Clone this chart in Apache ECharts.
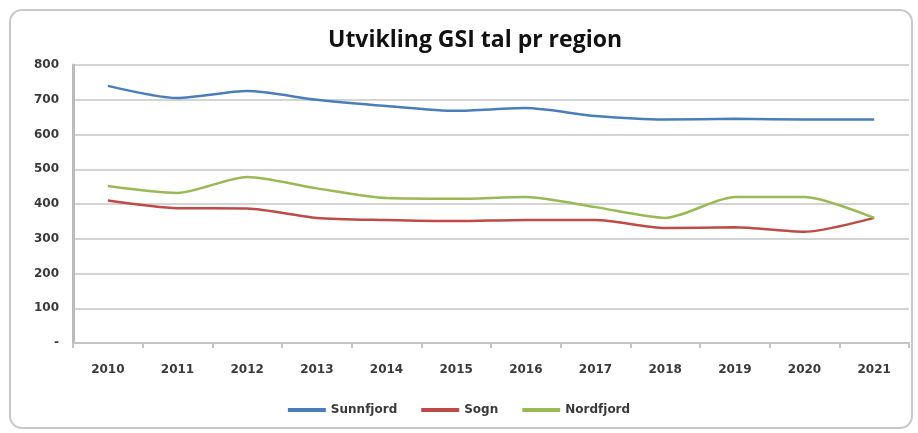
<!DOCTYPE html>
<html><head><meta charset="utf-8">
<script src="https://cdn.jsdelivr.net/npm/echarts@6/dist/echarts.min.js"></script>
<style>html,body{margin:0;padding:0;background:#fff}#c{width:918px;height:433px}</style>
</head><body><div id="c"></div>
<script>
const years = ['2010','2011','2012','2013','2014','2015','2016','2017','2018','2019','2020','2021'];
const sunnfjord = [740, 705, 725, 700, 682, 668, 676, 653, 643, 645, 643, 643];
const sogn = [410, 388, 387, 360, 354, 351, 354, 354, 331, 333, 320, 360];
const nordfjord = [452, 432, 478, 445, 417, 415, 420, 391, 360, 420, 420, 360];
const yTicks = {0:'-',100:'100',200:'200',300:'300',400:'400',500:'500',600:'600',700:'700',800:'800'};

const chart = echarts.init(document.getElementById('c'));
const lbl = {fontFamily:'DejaVu Sans', fontWeight:'bold', color:'#3a3a3a', fontSize:12};
chart.setOption({
  animation:false,
  graphic:[{type:'rect', shape:{x:10,y:10,width:902,height:418,r:12}, style:{fill:'none',stroke:'#c8c8c8',lineWidth:2}}],
  title:{text:'Utvikling GSI tal pr region', left:470, textAlign:'center', top:24,
    textStyle:{fontFamily:'Open Sans', fontWeight:'bold', fontSize:23, color:'#111'}},
  legend:{bottom:12, left:'center', itemWidth:38, itemHeight:4, itemGap:24, icon:'rect',
    textStyle:{fontFamily:'DejaVu Sans', fontSize:12, fontWeight:'bold', color:'#3a3a3a'}},
  grid:{left:73, right:9, top:65, bottom:90},
  xAxis:{type:'category', data:years, boundaryGap:true,
    axisLine:{lineStyle:{color:'#c4c4c4', width:2}},
    axisTick:{show:true, length:5, lineStyle:{color:'#c4c4c4', width:2}},
    axisLabel:Object.assign({margin:21}, lbl)},
  yAxis:{type:'value', min:0, max:800, interval:100,
    axisLine:{show:true, lineStyle:{color:'#bbb', width:3}},
    axisTick:{show:false},
    splitLine:{lineStyle:{color:'#d4d4d4', width:2}},
    axisLabel:Object.assign({margin:14, formatter:v=>yTicks[v]}, lbl)},
  series:[
    {name:'Sunnfjord', type:'line', data:sunnfjord, smooth:0.25, showSymbol:false, lineStyle:{color:'#4a7ebb', width:2.5}, itemStyle:{color:'#4a7ebb'}},
    {name:'Sogn', type:'line', data:sogn, smooth:0.25, showSymbol:false, lineStyle:{color:'#be4b48', width:2.5}, itemStyle:{color:'#be4b48'}},
    {name:'Nordfjord', type:'line', data:nordfjord, smooth:0.25, showSymbol:false, lineStyle:{color:'#98b954', width:2.5}, itemStyle:{color:'#98b954'}}
  ]
});
</script></body></html>
